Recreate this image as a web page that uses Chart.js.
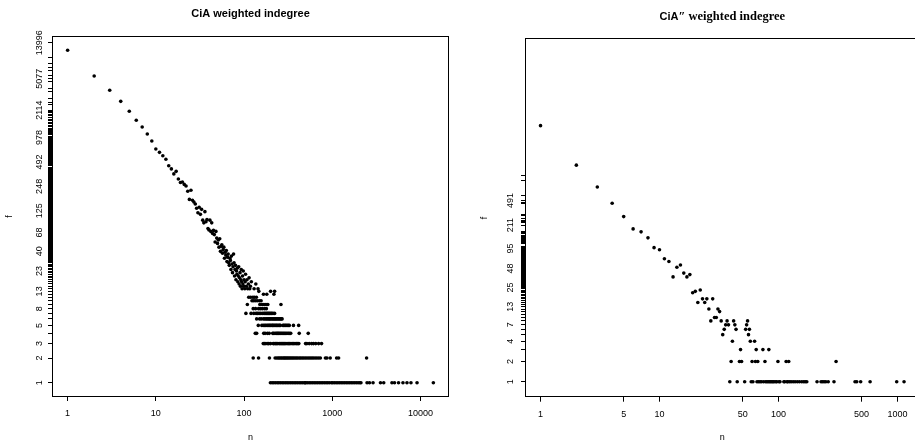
<!DOCTYPE html>
<html>
<head>
<meta charset="utf-8">
<script src="https://cdn.jsdelivr.net/npm/chart.js@4.4.0/dist/chart.umd.min.js"></script>
<style>
  body { margin:0; background:#fff; overflow:hidden; width:915px; height:442px; position:relative; }
  canvas { position:absolute; top:0; }
  #left { left:0; }
  #right { left:470px; }
</style>
</head>
<body>
<canvas id="left" width="457" height="442"></canvas>
<canvas id="right" width="460" height="442"></canvas>
<script>
console.log("indegree plots");

/* -------- LEFT PANEL DATA (CiA) -------- */
// upper scattered part: n -> f
const leftCloudN = [1,2,3,4,5,6,7,8,9,10,11,12,13,14,15,16,17,18,19,20,21,22,23,24,25,26,27,28,29,30,31,32,33,34,
  35,36,37,38,39,40,41,42,43,44,45,46,47,48,49,50,51,52,53,54,55,56,57,58,59,60,61,62,63,64,65,66,67,68,69,70,
  71,72,73,74,75,76,77,78,79,80,81,82,83,84,85,86,87,88,89,90,91,92,93,94,95,96,97,98,99,100,102,103,104,106,
  108,110,112,114,116,118,121,130,136,144];
const leftCloudF = [11320,5500,3680,2700,2040,1585,1313,1079,887,708,645,587,530,443,405,352,378,305,276,280,262,251,216,172,222,168,160,151,134,118,138,113,130,96,
  89,122,92,98,76,73,96,70,89,66,72,64,52,70,58,50,55,45,57,40,46,48,38,42,45,33,39,36,41,30,34,37,29,27,33,31,
  24,35,28,22,26,37,29,20,24,27,18,23,21,25,17,20,26,16,19,22,15,18,24,17,14,20,16,23,15,18,14,17,21,15,
  18,14,16,19,14,15,17,14,16,14];

// lower part: horizontal rows, one list of n per frequency level
const leftRowF = [1,2,3,4,5,6,7,8,9,10,11,12,13];
const leftRowN = [
  [199,208,217,227,238,248,259,271,283,296,309,323,338,353,369,385,402,421,440,459,480,492,502,524,548,572,598,625,653,682,
   713,745,778,813,850,888,928,978,1013,1058,1106,1156,1208,1262,1319,1378,1440,1505,1573,1643,1717,1795,1875,1960,2048,2114,
   2480,2640,2900,3520,3830,4750,5077,5640,6330,7030,7800,9140,13996],
  [127,146,194,225,235,244,252,261,269,278,286,294,303,312,322,332,343,355,367,380,394,408,425,440,458,476,496,517,540,562,
   586,610,638,668,700,733,836,870,948,1120,1180,2450],
  [165,171,177,186,191,200,214,219,227,233,241,250,257,265,273,281,289,298,308,319,328,340,352,365,378,392,406,418,
   498,515,548,584,612,650,700,756],
  [134,139,167,173,184,193,211,216,224,231,237,243,249,256,263,271,279,287,296,306,316,326,338,422,534],
  [145,159,165,171,176,182,187,192,197,202,208,212,217,223,229,234,240,247,253,258,276,283,291,299,308,317,326,363,416],
  [139,150,157,166,172,178,183,189,194,198,204,210,215,221,226,232,238,245,251,258,264,270],
  [105,120,129,137,142,148,155,163,169,174,180,185,190,195,201,206,213,222],
  [127,135,146,153,161,171,179],
  [109,151,160,168,177,186,262],
  [123,128,134,141,149,156],
  [113,119,126,131,138],
  [166,181,218],
  [147,200,222]
];
const leftXTicks = [1,10,100,1000,10000];
const leftYLabels = [1,2,3,5,8,13,23,40,68,125,248,492,978,2114,5077,13996];

/* -------- RIGHT PANEL DATA (CiA'') -------- */
const rightN = [1,2,3,4,5,6,7,8,9,10,11,12,13,14,15,16,17,18,19,20,21,22,23,24,25,26,27,28,29,30,31,32,33,34,35,36,37,38,39,40,
  41,42,43,44,45,47,48,49,52,53,54,55,56,57,58,59,60,61,63,64,65,66,67,68,70,72,74,75,77,78,80,82,83,84,86,88,90,92,95,97,99,
  101,103,111,113,116,118,120,122,124,128,133,138,144,150,157,163,168,173,211,228,235,242,250,262,293,305,440,455,491,589,986,1137];
const rightF = [6340,1643,778,447,283,186,168,137,98,91,67,61,36,50,54,41,36,39,21,22,15,23,17,15,17,12,8,17,9,9,12,11,8,5,6,7,8,7,1,2,
  4,8,7,6,1,2,3,2,1,6,7,8,5,6,4,1,2,1,4,2,3,1,2,1,1,1,3,1,2,1,1,1,3,1,1,1,1,1,1,1,2,
  1,1,1,1,2,1,1,2,1,1,1,1,1,1,1,1,1,1,1,1,1,1,1,1,1,2,1,1,1,1,1,1];
const rightXTicks = [1,5,10,50,100,500,1000];
const rightYLabels = [1,2,4,7,13,25,48,95,211,491];

/* -------- BUILD POINTS -------- */
const leftN = leftCloudN.concat(...leftRowN);
const leftF = leftCloudF.concat(leftRowN.flatMap((row, i) => row.map(() => leftRowF[i])));
const leftPts = leftN.map((n, i) => ({x: n, y: leftF[i]}));
const rightPts = rightN.map((n, i) => ({x: n, y: rightF[i]}));

const SANS = '"Liberation Sans", Arial, Helvetica, sans-serif';
const SERIF = '"Liberation Serif", "Times New Roman", serif';
Chart.defaults.font.family = SANS;
Chart.defaults.color = '#000';

/* -------- box, rotated y labels and title -------- */
const framePlugin = {
  id: 'frame',
  afterDraw(chart, args, opts) {
    const {ctx, chartArea: a} = chart;
    const y = chart.scales.y;
    ctx.save();
    ctx.strokeStyle = '#000';
    ctx.lineWidth = 1;
    ctx.strokeRect(Math.round(a.left) - 0.5, Math.round(a.top) - 0.5,
                   Math.round(a.right - a.left) + 1, Math.round(a.bottom - a.top) + 1);

    ctx.fillStyle = '#000';
    ctx.font = '9px ' + SANS;
    ctx.textAlign = 'center';
    ctx.textBaseline = 'middle';
    opts.labels.forEach(v => {
      ctx.save();
      ctx.translate(a.left - opts.gap, y.getPixelForValue(v));
      ctx.rotate(-Math.PI / 2);
      ctx.fillText(String(v), 0, 0);
      ctx.restore();
    });

    // title, possibly in mixed fonts
    let total = 0;
    opts.title.forEach(p => { ctx.font = p.font; total += ctx.measureText(p.text).width; });
    let tx = (a.left + a.right) / 2 - total / 2;
    ctx.textAlign = 'left';
    ctx.textBaseline = 'middle';
    opts.title.forEach(p => {
      ctx.font = p.font;
      ctx.fillText(p.text, tx, opts.titleY);
      tx += ctx.measureText(p.text).width;
    });
    ctx.restore();
  }
};

function makeChart(id, pts, cfg) {
  return new Chart(document.getElementById(id), {
    type: 'scatter',
    data: {
      datasets: [{
        data: pts,
        pointRadius: 1.8,
        pointHoverRadius: 1.8,
        pointBackgroundColor: '#000',
        pointBorderWidth: 0
      }]
    },
    options: {
      responsive: false,
      animation: false,
      devicePixelRatio: 1,
      layout: {padding: {left: 0, right: cfg.padRight, top: cfg.top, bottom: 0}},
      plugins: {
        legend: {display: false},
        tooltip: {enabled: false},
        frame: {labels: cfg.yLabels, gap: cfg.gap, title: cfg.title, titleY: cfg.titleY}
      },
      scales: {
        x: {
          type: 'logarithmic',
          min: cfg.xMin, max: cfg.xMax,
          afterBuildTicks: s => { s.ticks = cfg.xTicks.map(v => ({value: v})); },
          afterFit: s => { s.height = cfg.xHeight; },
          ticks: {autoSkip: false, maxRotation: 0, minRotation: 0, padding: 7,
                  font: {size: 9}, color: '#000', callback: v => String(v)},
          grid: {drawOnChartArea: false, tickLength: 5, color: '#000', lineWidth: 1},
          border: {display: false},
          title: {display: true, text: 'n', font: {size: 9, lineHeight: 1}, color: '#000',
                  padding: {top: 0, bottom: 0}}
        },
        y: {
          type: 'logarithmic',
          min: cfg.yMin, max: cfg.yMax,
          afterBuildTicks: s => { s.ticks = cfg.yTicks.map(v => ({value: v})); },
          afterFit: s => { s.width = cfg.yWidth; },
          ticks: {display: false},
          grid: {drawOnChartArea: false, tickLength: 5, color: '#000', lineWidth: 1},
          border: {display: false},
          title: {display: true, text: 'f', font: {size: 9, lineHeight: 1}, color: '#000',
                  padding: {top: cfg.fPad, bottom: 0}}
        }
      }
    },
    plugins: [framePlugin]
  });
}

makeChart('left', leftPts, {
  xMin: Math.pow(10, -0.1658), xMax: Math.pow(10, 4.312),
  yMin: Math.pow(10, -0.162), yMax: Math.pow(10, 4.216),
  xTicks: leftXTicks, yTicks: leftN, yLabels: leftYLabels,
  top: 37, padRight: 9, xHeight: 46, yWidth: 53, gap: 13.5, fPad: 5.5,
  titleY: 14,
  title: [{text: 'CiA weighted indegree', font: 'bold 11px ' + SANS}]
});

makeChart('right', rightPts, {
  xMin: Math.pow(10, -0.1222), xMax: Math.pow(10, 3.178),
  yMin: Math.pow(10, -0.1955), yMax: Math.pow(10, 5.084),
  xTicks: rightXTicks, yTicks: rightN, yLabels: rightYLabels,
  top: 39.3, padRight: 11.4, xHeight: 45.3, yWidth: 56, gap: 15, fPad: 10.5,
  titleY: 16.7,
  title: [{text: 'CiA', font: 'bold 11px ' + SANS},
          {text: '\u2033 weighted indegree', font: 'bold 12.5px ' + SERIF}]
});
</script>
</body>
</html>
